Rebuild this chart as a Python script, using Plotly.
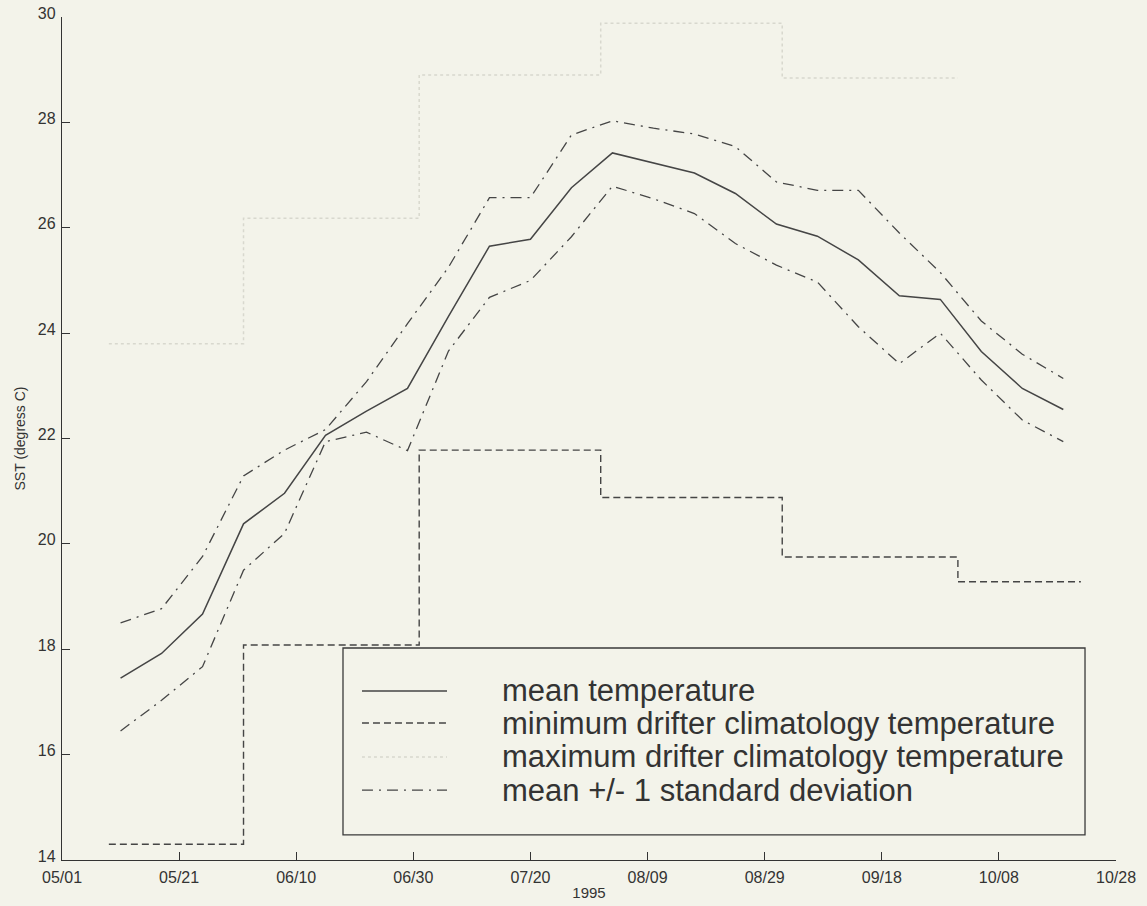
import plotly.graph_objects as go

# weekly drifter means (1995)
week_dates = ['1995-05-11', '1995-05-18', '1995-05-25', '1995-06-01', '1995-06-08', '1995-06-15',
              '1995-06-22', '1995-06-29', '1995-07-06', '1995-07-13', '1995-07-20', '1995-07-27',
              '1995-08-03', '1995-08-10', '1995-08-17', '1995-08-24', '1995-08-31', '1995-09-07',
              '1995-09-14', '1995-09-21', '1995-09-28', '1995-10-05', '1995-10-12', '1995-10-19']
mean_temp = [17.45, 17.92, 18.67, 20.38, 20.96, 22.06, 22.52, 22.95, 24.32, 25.65, 25.78, 26.76,
             27.42, 27.23, 27.04, 26.65, 26.07, 25.84, 25.39, 24.71, 24.64, 23.65, 22.95, 22.55]
mean_plus_sd = [18.50, 18.77, 19.76, 21.29, 21.78, 22.17, 23.08, 24.18, 25.25, 26.57, 26.57, 27.76,
                28.03, 27.89, 27.78, 27.54, 26.87, 26.71, 26.71, 25.90, 25.15, 24.23, 23.60, 23.14]
mean_minus_sd = [16.45, 17.03, 17.67, 19.50, 20.20, 21.94, 22.12, 21.77, 23.66, 24.68, 25.00, 25.83,
                 26.79, 26.55, 26.27, 25.70, 25.29, 24.97, 24.12, 23.42, 24.00, 23.11, 22.35, 21.94]

# monthly drifter climatology
clim_min_dates = ['1995-05-09', '1995-06-01', '1995-07-01', '1995-08-01', '1995-09-01', '1995-10-01', '1995-10-22']
clim_min = [14.30, 18.08, 21.78, 20.88, 19.75, 19.28, 19.28]
clim_max_dates = ['1995-05-09', '1995-06-01', '1995-07-01', '1995-08-01', '1995-09-01', '1995-10-01']
clim_max = [23.80, 26.18, 28.90, 29.88, 28.84, 28.84]

tick_dates = ['1995-05-01', '1995-05-21', '1995-06-10', '1995-06-30', '1995-07-20',
              '1995-08-09', '1995-08-29', '1995-09-18', '1995-10-08', '1995-10-28']
tick_text = ['05/01', '05/21', '06/10', '06/30', '07/20', '08/09', '08/29', '09/18', '10/08', '10/28']
y_ticks = [14, 16, 18, 20, 22, 24, 26, 28, 30]

legend_labels = ['mean temperature', 'minimum drifter climatology temperature',
                 'maximum drifter climatology temperature', 'mean +/- 1 standard deviation']

bg = '#f3f3ea'
ink = '#454545'
faint = '#d8d8ce'
font = 'Liberation Sans, Arial, sans-serif'

fig = go.Figure()

fig.add_trace(go.Scatter(x=clim_max_dates, y=clim_max, mode='lines', line_shape='hv',
                         line=dict(color=faint, width=1.5, dash='dot')))
fig.add_trace(go.Scatter(x=clim_min_dates, y=clim_min, mode='lines', line_shape='hv',
                         line=dict(color=ink, width=1.4, dash='7px,4px')))
fig.add_trace(go.Scatter(x=week_dates, y=mean_plus_sd, mode='lines',
                         line=dict(color=ink, width=1.3, dash='11px,6px,2px,6px')))
fig.add_trace(go.Scatter(x=week_dates, y=mean_minus_sd, mode='lines',
                         line=dict(color=ink, width=1.3, dash='11px,6px,2px,6px')))
fig.add_trace(go.Scatter(x=week_dates, y=mean_temp, mode='lines',
                         line=dict(color=ink, width=1.5)))

# legend box drawn by hand so the line samples are as long as in the original
styles = [dict(color=ink, width=1.5),
          dict(color=ink, width=1.4, dash='7px,4px'),
          dict(color=faint, width=1.5, dash='dot'),
          dict(color=ink, width=1.3, dash='11px,6px,2px,6px')]
rows = [0.2005, 0.1625, 0.1222, 0.0830]

shapes = [dict(type='rect', xref='paper', yref='paper', x0=0.2666, x1=0.9706, y0=0.0297, y1=0.2515,
               line=dict(color='#3a3a3a', width=1.3), fillcolor=bg, layer='above')]
annotations = []
for lab, st, yy in zip(legend_labels, styles, rows):
    shapes.append(dict(type='line', xref='paper', yref='paper', x0=0.2846, x1=0.3653, y0=yy, y1=yy,
                       line=st, layer='above'))
    annotations.append(dict(xref='paper', yref='paper', x=0.4155, y=yy, text=lab, showarrow=False,
                            xanchor='left', yanchor='middle',
                            font=dict(family=font, size=31, color='#333333')))

fig.update_layout(
    width=1147, height=906,
    margin=dict(l=62, r=31, t=17, b=46),
    paper_bgcolor=bg, plot_bgcolor=bg,
    showlegend=False,
    shapes=shapes,
    annotations=annotations,
    font=dict(family=font, color='#333333'),
    xaxis=dict(type='date', range=['1995-05-01', '1995-10-28'], automargin=False,
               tickmode='array', tickvals=tick_dates, ticktext=tick_text,
               ticks='inside', ticklen=8, tickcolor='#333', tickfont=dict(size=16),
               ticklabelstandoff=3,
               showline=True, linecolor='#333', linewidth=1.3, showgrid=False, zeroline=False,
               title=dict(text='1995', font=dict(size=15), standoff=2)),
    yaxis=dict(range=[14, 30], tickmode='array', tickvals=y_ticks, automargin=False,
               ticks='inside', ticklen=8, tickcolor='#333', tickfont=dict(size=16),
               ticklabelshift=-4, ticklabelstandoff=2,
               showline=True, linecolor='#333', linewidth=1.3, showgrid=False, zeroline=False,
               title=dict(text='SST (degress C)', font=dict(size=14), standoff=8)),
)

# drop the default page margin so the figure sits at the window's corner
fig.write_html('out.html', config={'displayModeBar': False},
               post_script="document.body.style.margin='0';document.body.style.background='#f3f3ea';")
